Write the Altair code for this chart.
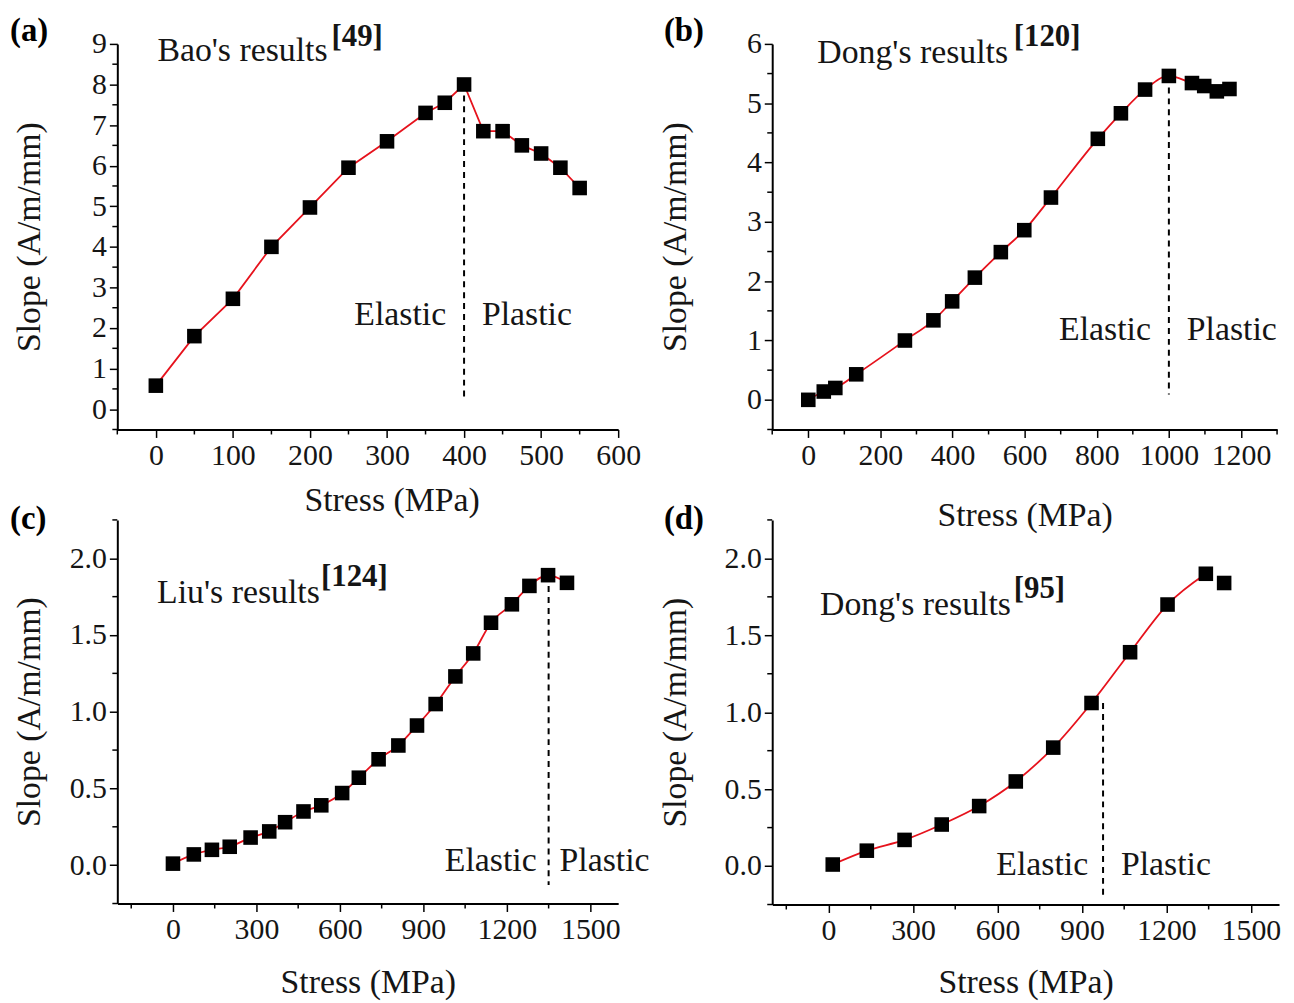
import altair as alt
import pandas as pd

# ---------------- data ----------------
A_x = [0, 50, 100, 150, 200, 250, 300, 350, 375, 400, 425, 450, 475, 500, 525, 550]
A_y = [0.58, 1.8, 2.72, 4.0, 4.97, 5.95, 6.6, 7.3, 7.55, 8.0, 6.85, 6.85, 6.5, 6.3, 5.95, 5.45]

B_x = [0, 43, 75, 133, 268, 347, 399, 462, 534, 599, 673, 803, 867, 934, 1000, 1064, 1098, 1133, 1168]
B_y = [0.0, 0.14, 0.2, 0.43, 1.0, 1.34, 1.66, 2.06, 2.49, 2.86, 3.41, 4.4, 4.83, 5.23, 5.46, 5.34, 5.29, 5.2, 5.24]

C_x = [0, 75, 140, 204, 279, 346, 403, 469, 533, 608, 668, 739, 810, 877, 944, 1015, 1079, 1143, 1218, 1281, 1348, 1416]
C_y = [0.01, 0.07, 0.10, 0.12, 0.18, 0.22, 0.28, 0.35, 0.39, 0.47, 0.57, 0.69, 0.78, 0.91, 1.05, 1.23, 1.38, 1.58, 1.70, 1.82, 1.89, 1.84]

D_x = [15, 136, 270, 402, 535, 665, 798, 934, 1071, 1204, 1340, 1405]
D_y = [0.01, 0.10, 0.17, 0.27, 0.39, 0.55, 0.77, 1.06, 1.39, 1.70, 1.90, 1.84]
D_line_points = 11  # last point of (d) is not joined by the line

A_xticks = [0, 100, 200, 300, 400, 500, 600]
A_xminor = [-50, 50, 150, 250, 350, 450, 550]
A_yticks = [0, 1, 2, 3, 4, 5, 6, 7, 8, 9]
A_yminor = [-0.5, 0.5, 1.5, 2.5, 3.5, 4.5, 5.5, 6.5, 7.5, 8.5]

B_xticks = [0, 200, 400, 600, 800, 1000, 1200]
B_xminor = [-100, 100, 300, 500, 700, 900, 1100, 1300]
B_yticks = [0, 1, 2, 3, 4, 5, 6]
B_yminor = [-0.5, 0.5, 1.5, 2.5, 3.5, 4.5, 5.5]

CD_xticks = [0, 300, 600, 900, 1200, 1500]
CD_xminor = [-150, 150, 450, 750, 1050, 1350]
CD_yticks = [0.0, 0.5, 1.0, 1.5, 2.0]
CD_yminor = [-0.25, 0.25, 0.75, 1.25, 1.75, 2.25]

SERIF = "Liberation Serif"
RED = "#e6121c"
TXT = "#151515"


def panel(xs, ys, nline, xdom, ydom, xticks, xminor, yticks, yminor, yfmt,
          w, h, interp, dash_x, dash_y1, dash_y2, ref_name, ref_num,
          name_pos, num_pos, phase_y, el_dx, pl_dx, letter, letter_pos,
          xtitle_x, xtitle_y, ytitle_x):
    df = pd.DataFrame({"x": xs, "y": ys})
    dline = df.iloc[:nline]
    xs_ = alt.Scale(domain=xdom, nice=False, zero=False)
    ys_ = alt.Scale(domain=ydom, nice=False, zero=False)

    xaxis = alt.Axis(values=xticks, format="d", labelOverlap=False, labelFlush=False,
                     tickSize=8, titleX=xtitle_x, titleY=xtitle_y, titleBaseline="middle",
                     title="Stress (MPa)")
    yaxis = alt.Axis(values=yticks, format=yfmt, labelOverlap=False, labelFlush=False,
                     tickSize=8, titleX=ytitle_x, titleY=h / 2, titleBaseline="middle",
                     title="Slope (A/m/mm)")

    def X(f="x"):
        return alt.X(f + ":Q", scale=xs_, axis=xaxis)

    def Y(f="y"):
        return alt.Y(f + ":Q", scale=ys_, axis=yaxis)

    line = alt.Chart(dline).mark_line(color=RED, strokeWidth=1.8, interpolate=interp).encode(
        x=X(), y=Y())
    pts = alt.Chart(df).mark_square(size=215, color="black", opacity=1).encode(x=X(), y=Y())
    xm = alt.Chart(pd.DataFrame({"v": xminor})).mark_rule(color="black", strokeWidth=1.5).encode(
        x=X("v"), y=alt.value(h), y2=alt.value(h + 5))
    ym = alt.Chart(pd.DataFrame({"v": yminor})).mark_rule(color="black", strokeWidth=1.5).encode(
        y=Y("v"), x=alt.value(0), x2=alt.value(-5))
    ddf = pd.DataFrame({"x": [dash_x], "y": [dash_y1], "y2": [dash_y2]})
    dash = alt.Chart(ddf).mark_rule(color="black", strokeWidth=2, strokeDash=[6, 5]).encode(
        x=X(), y=Y(), y2="y2:Q")
    ndf = pd.DataFrame({"x": [name_pos[0]], "y": [name_pos[1]], "t": [ref_name]})
    name = alt.Chart(ndf).mark_text(font=SERIF, fontSize=34, align="left", baseline="alphabetic",
                                    color=TXT).encode(x=X(), y=Y(), text="t:N")
    mdf = pd.DataFrame({"x": [num_pos[0]], "y": [num_pos[1]], "t": [ref_num]})
    num = alt.Chart(mdf).mark_text(font=SERIF, fontSize=31, fontWeight="bold", align="left",
                                   baseline="alphabetic", color=TXT).encode(x=X(), y=Y(), text="t:N")
    edf = pd.DataFrame({"x": [dash_x], "y": [phase_y], "t": ["Elastic"]})
    el = alt.Chart(edf).mark_text(font=SERIF, fontSize=34, align="right", baseline="alphabetic",
                                  dx=el_dx, color=TXT).encode(x=X(), y=Y(), text="t:N")
    pdf_ = pd.DataFrame({"x": [dash_x], "y": [phase_y], "t": ["Plastic"]})
    pl = alt.Chart(pdf_).mark_text(font=SERIF, fontSize=34, align="left", baseline="alphabetic",
                                   dx=pl_dx, color=TXT).encode(x=X(), y=Y(), text="t:N")
    ldf = pd.DataFrame({"t": [letter]})
    lab = alt.Chart(ldf).mark_text(font=SERIF, fontSize=33, fontWeight="bold", align="left",
                                   baseline="alphabetic", color="black").encode(
        x=alt.value(letter_pos[0]), y=alt.value(letter_pos[1]), text="t:N")
    return alt.layer(line, pts, xm, ym, dash, name, num, el, pl, lab).properties(width=w, height=h)


pa = panel(A_x, A_y, len(A_x), [-50, 600], [-0.5, 9], A_xticks, A_xminor, A_yticks, A_yminor, "d",
           504, 388, "linear", 400, 8.0, 0.21, "Bao's results", "[49]",
           (2, 8.59), (228, 8.95), 2.07, -18, 18, "(a)", (-108, -3),
           276, 72, -88)
pb = panel(B_x, B_y, len(B_x), [-100, 1300], [-0.5, 6], B_xticks, B_xminor, B_yticks, B_yminor, "d",
           508, 388, "monotone", 1000, 5.45, 0.09, "Dong's results", "[120]",
           (25, 5.67), (570, 5.96), 1.01, -18, 18, "(b)", (-109, -3),
           254, 87, -97)
pc = panel(C_x, C_y, len(C_x), [-200, 1600], [-0.25, 2.25], CD_xticks, CD_xminor, CD_yticks, CD_yminor, ".1f",
           504, 386, "monotone", 1350, 1.89, -0.13, "Liu's results", "[124]",
           (-57, 1.71), (532, 1.82), -0.04, -12, 11, "(c)", (-108, 9),
           252, 80, -88)
pd_ = panel(D_x, D_y, D_line_points, [-200, 1600], [-0.25, 2.25], CD_xticks, CD_xminor, CD_yticks, CD_yminor, ".1f",
            510, 387, "monotone", 975, 1.06, -0.2, "Dong's results", "[95]",
            (-30, 1.63), (658, 1.74), -0.06, -15, 18, "(d)", (-109, 9),
            255, 79, -97)

chart = alt.concat(
    pa, pb, pc, pd_, columns=2,
    spacing=alt.RowColnumber(row=91, column=155), bounds="flush",
).properties(
    padding={"left": 2, "top": 4, "right": 5, "bottom": 5}, background="white"
).configure_view(stroke=None).configure_axis(
    domainColor="black", domainWidth=2, tickColor="black", tickWidth=1.5,
    labelColor=TXT, titleColor=TXT, labelFont=SERIF, titleFont=SERIF,
    labelFontSize=30, titleFontSize=34, titleFontWeight="normal", grid=False, labelPadding=3,
)

chart.save("out.html", embed_options={"renderer": "svg", "actions": False})
